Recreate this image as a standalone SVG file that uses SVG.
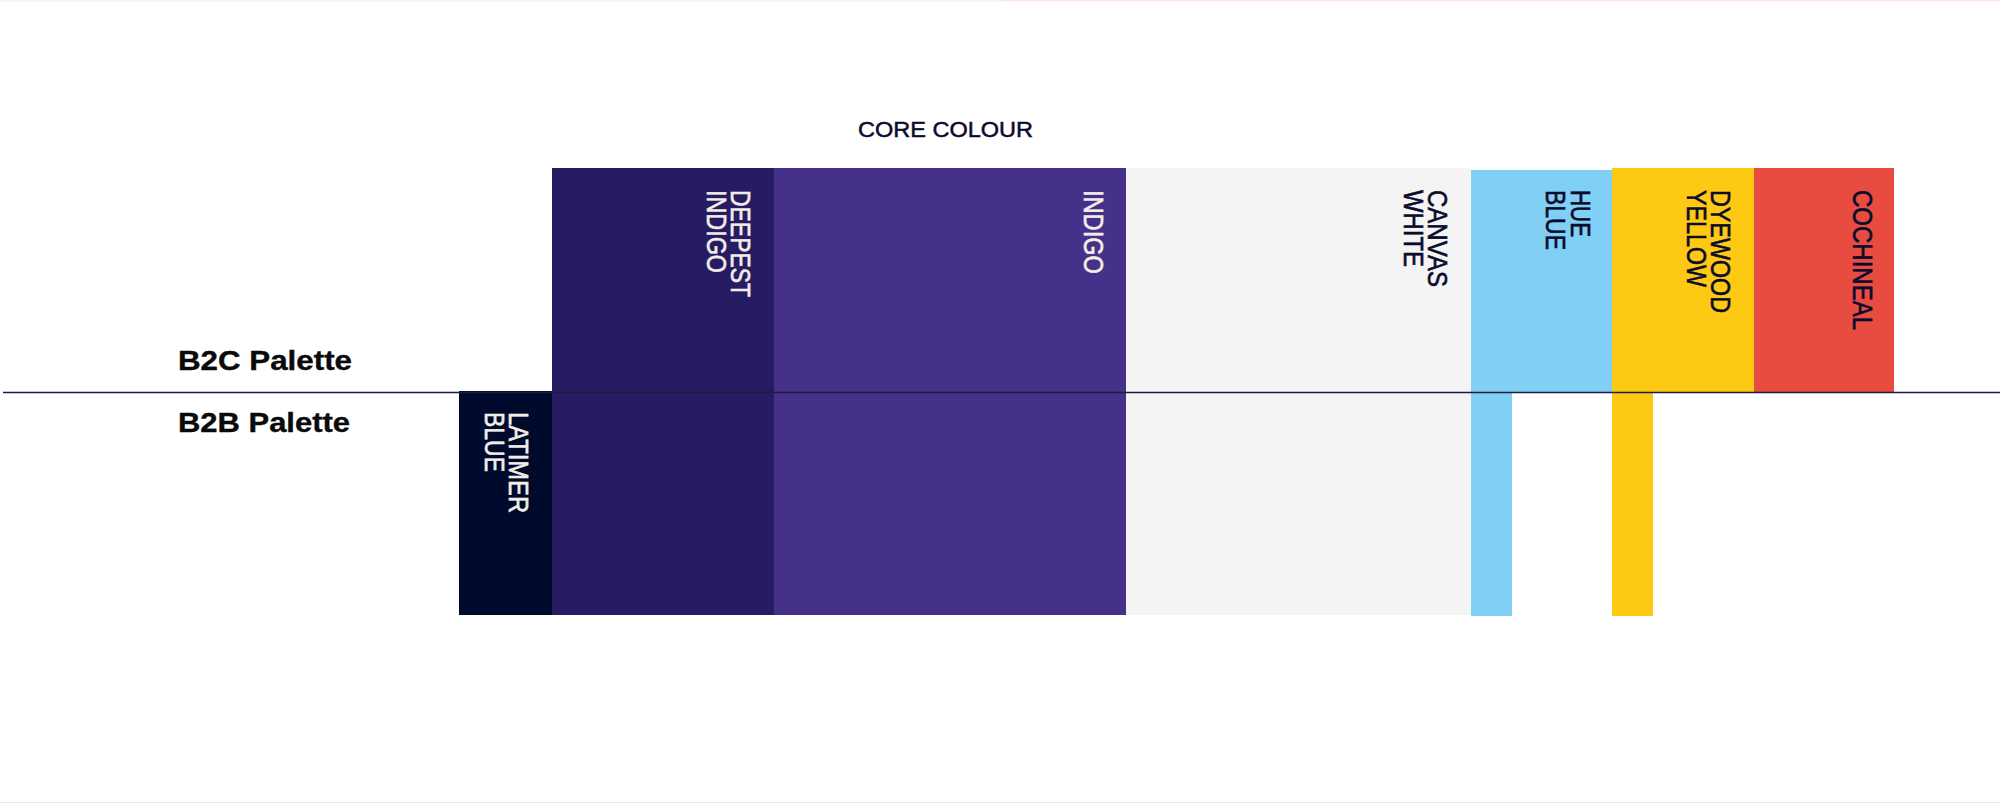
<svg xmlns="http://www.w3.org/2000/svg" width="2000" height="803" viewBox="0 0 2000 803">
  <style>
    .lbl { font-family: "Liberation Sans", Arial, sans-serif; font-size: 27px; stroke-width: 0.6px; }
    .light { fill: #f2eee6; stroke: #f2eee6; }
    .dark { fill: #0b0b2b; stroke: #0b0b2b; }
    .row { font-family: "Liberation Sans", Arial, sans-serif; font-size: 28px; font-weight: bold; fill: #0a0a0a; stroke: #0a0a0a; stroke-width: 0.4px; }
    .title { font-family: "Liberation Sans", Arial, sans-serif; font-size: 22px; fill: #0b0b2b; stroke: #0b0b2b; stroke-width: 0.5px; }
  </style>
  <rect x="0" y="0" width="2000" height="803" fill="#ffffff"/>
  <rect x="0" y="0" width="1000" height="1.5" fill="#fbf3e6"/>
  <rect x="1000" y="0" width="1000" height="1.5" fill="#fbe6e4"/>
  <rect x="0" y="802" width="2000" height="1" fill="#e6e6e6"/>

  <text id="core-colour" class="title" x="858" y="137" textLength="175" lengthAdjust="spacingAndGlyphs">CORE COLOUR</text>
  <g id="row-labels">
    <text class="row" x="178" y="370" textLength="174" lengthAdjust="spacingAndGlyphs">B2C Palette</text>
    <text class="row" x="178" y="432" textLength="172" lengthAdjust="spacingAndGlyphs">B2B Palette</text>
  </g>

  <g id="latimer-blue">
    <rect x="459" y="391" width="93" height="224" fill="#000a2d"/>
    <text class="lbl light" transform="translate(509,412) rotate(90)" textLength="101" lengthAdjust="spacingAndGlyphs">LATIMER</text>
    <text class="lbl light" transform="translate(485,412) rotate(90)" textLength="60" lengthAdjust="spacingAndGlyphs">BLUE</text>
  </g>
  <g id="deepest-indigo">
    <rect x="552" y="168" width="222" height="447" fill="#271b63"/>
    <text class="lbl light" transform="translate(731,190) rotate(90)" textLength="107" lengthAdjust="spacingAndGlyphs">DEEPEST</text>
    <text class="lbl light" transform="translate(707,190) rotate(90)" textLength="83" lengthAdjust="spacingAndGlyphs">INDIGO</text>
  </g>
  <g id="indigo">
    <rect x="774" y="168" width="352" height="447" fill="#46318a"/>
    <text class="lbl light" transform="translate(1084,190) rotate(90)" textLength="84" lengthAdjust="spacingAndGlyphs">INDIGO</text>
  </g>
  <g id="canvas-white">
    <rect x="1126" y="168" width="345" height="447" fill="#f4f4f4"/>
    <text class="lbl dark" transform="translate(1428,190) rotate(90)" textLength="97" lengthAdjust="spacingAndGlyphs">CANVAS</text>
    <text class="lbl dark" transform="translate(1404,190) rotate(90)" textLength="77" lengthAdjust="spacingAndGlyphs">WHITE</text>
  </g>
  <g id="hue-blue">
    <rect x="1471" y="170" width="141" height="223" fill="#80cff4"/>
    <rect x="1471" y="392" width="41" height="224" fill="#80cff4"/>
    <text class="lbl dark" transform="translate(1571,190) rotate(90)" textLength="47" lengthAdjust="spacingAndGlyphs">HUE</text>
    <text class="lbl dark" transform="translate(1546,190) rotate(90)" textLength="60" lengthAdjust="spacingAndGlyphs">BLUE</text>
  </g>
  <g id="dyewood-yellow">
    <rect x="1612" y="168" width="142" height="225" fill="#fdc913"/>
    <rect x="1612" y="392" width="41" height="224" fill="#fdc913"/>
    <text class="lbl dark" transform="translate(1711,190) rotate(90)" textLength="123" lengthAdjust="spacingAndGlyphs">DYEWOOD</text>
    <text class="lbl dark" transform="translate(1687,190) rotate(90)" textLength="97" lengthAdjust="spacingAndGlyphs">YELLOW</text>
  </g>
  <g id="cochineal">
    <rect x="1754" y="168" width="140" height="224" fill="#e84b3f"/>
    <text class="lbl dark" transform="translate(1853,190) rotate(90)" textLength="140" lengthAdjust="spacingAndGlyphs">COCHINEAL</text>
  </g>

  <g id="connectors">
    <line x1="3" y1="392.5" x2="2000" y2="392.5" stroke="#1c1b40" stroke-width="1.6"/>
  </g>
</svg>
